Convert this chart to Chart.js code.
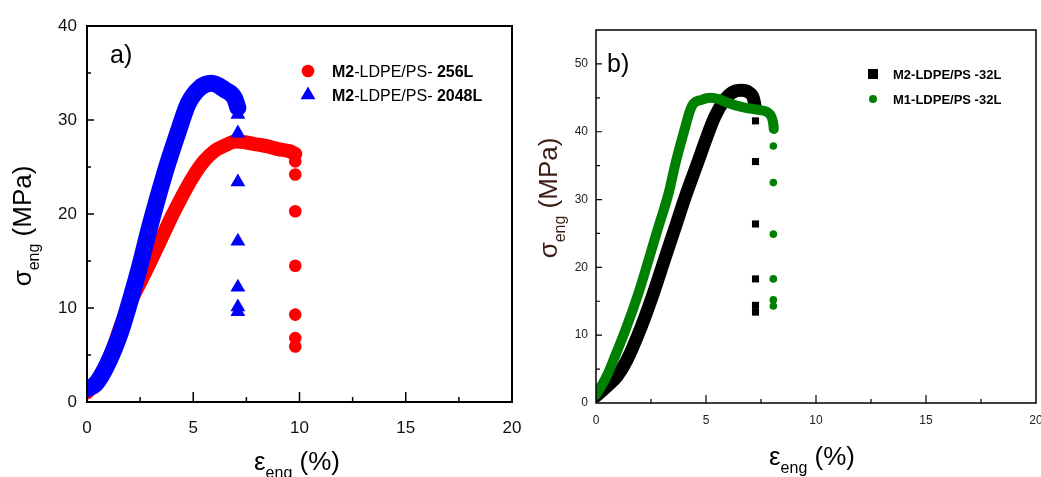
<!DOCTYPE html>
<html>
<head>
<meta charset="utf-8">
<script src="https://cdn.jsdelivr.net/npm/chart.js@4.4.1/dist/chart.umd.min.js"></script>
<style>
  html, body { margin: 0; padding: 0; background: #fff; }
  #wrap { position: relative; width: 1041px; height: 477px; overflow: hidden; background: #fff; }
  #chartA { position: absolute; left: 0; top: 0; }
  #chartB { position: absolute; left: 530px; top: 0; }
</style>
</head>
<body>
<div id="wrap">
  <canvas id="chartA" width="530" height="477"></canvas>
  <canvas id="chartB" width="511" height="477"></canvas>
</div>
<script>
/**
 * Data - panel a) M2-LDPE/PS
 */
const strain256 = [0, 0.5, 0.9, 1.3, 1.6, 2.0, 2.5, 3.0, 3.5, 4.0, 4.5, 5.0, 5.5, 6.0, 6.5, 7.0, 7.5, 8.0, 8.5, 9.0, 9.5, 9.8];
const stress256 = [1.0, 2.4, 4.0, 6.2, 8.2, 10.4, 12.7, 15.0, 17.4, 19.8, 22.0, 24.0, 25.6, 26.7, 27.3, 27.7, 27.6, 27.4, 27.2, 26.9, 26.7, 26.4];
const breakStrain256 = [9.8, 9.8, 9.8, 9.8, 9.8, 9.8, 9.8];
const breakStress256 = [25.6, 24.2, 20.3, 14.5, 9.3, 6.8, 5.9];

const strain2048 = [0, 0.4, 0.96, 1.59, 2.06, 2.49, 2.89, 3.3, 3.75, 4.3, 4.75, 5.3, 5.85, 6.5, 6.95, 7.1];
const stress2048 = [1.4, 1.9, 4.0, 7.5, 11.0, 14.5, 18.1, 21.5, 25.0, 28.8, 31.7, 33.4, 33.9, 33.2, 32.3, 31.3];
const breakStrain2048 = [7.1, 7.1, 7.1, 7.1, 7.1, 7.1, 7.1];
const breakStress2048 = [30.6, 28.6, 23.4, 17.1, 12.2, 10.1, 9.6];

/**
 * Data - panel b) 32 layers, M1 vs M2
 */
const strainM2 = [0, 0.55, 0.95, 1.4, 2.05, 2.6, 3.1, 3.6, 4.1, 4.65, 5.0, 5.4, 5.8, 6.2, 6.6, 6.95, 7.15, 7.22];
const stressM2 = [1.0, 2.6, 3.9, 6.3, 11.2, 16.1, 21.0, 25.9, 30.8, 35.7, 38.9, 42.2, 44.5, 45.8, 46.1, 45.8, 45.0, 44.0];
const breakStrainM2 = [7.25, 7.25, 7.25, 7.25, 7.25, 7.25];
const breakStressM2 = [41.6, 35.6, 26.4, 18.3, 14.4, 13.4];

const strainM1 = [0, 0.48, 0.79, 1.39, 1.92, 2.38, 2.83, 3.29, 3.64, 4.05, 4.27, 4.42, 4.8, 5.18, 5.6, 5.94, 6.7, 7.45, 7.9, 8.06, 8.08];
const stressM1 = [1.2, 3.9, 6.3, 11.2, 16.1, 21.0, 25.9, 30.8, 35.7, 40.6, 43.1, 44.1, 44.7, 45.0, 44.8, 44.3, 43.6, 43.2, 42.6, 41.1, 40.4];
const breakStrainM1 = [8.06, 8.06, 8.06, 8.06, 8.06, 8.06];
const breakStressM1 = [37.9, 32.5, 24.9, 18.3, 15.2, 14.3];

// ticks
const xTicks = [0, 5, 10, 15, 20];
const xMinor = [2.5, 7.5, 12.5, 17.5];
const yTicksA = [0, 10, 20, 30, 40];
const yMinorA = [5, 15, 25, 35];
const yTicksB = [0, 10, 20, 30, 40, 50];
const yMinorB = [5, 15, 25, 35, 45];

// texts
const panelLabels = ['a)', 'b)'];
const legendA = [
  [{ t: 'M2', b: true }, { t: '-LDPE/PS- ' }, { t: '256L', b: true }],
  [{ t: 'M2', b: true }, { t: '-LDPE/PS- ' }, { t: '2048L', b: true }]
];
const legendB = ['M2-LDPE/PS -32L', 'M1-LDPE/PS -32L'];

const FONT = "'Liberation Sans', Arial, Helvetica, sans-serif";
Chart.defaults.font.family = FONT;

/**
 * Helpers
 */
const pts = (xs, ys) => xs.map((x, i) => ({ x: x, y: ys[i] }));

const curve = (xs, ys, color, width) => ({
  data: pts(xs, ys),
  showLine: true,
  borderColor: color,
  backgroundColor: color,
  borderWidth: width,
  borderCapStyle: 'round',
  borderJoinStyle: 'round',
  cubicInterpolationMode: 'monotone',
  pointRadius: 0,
  clip: 0
});

const drops = (xs, ys, color, style, radius) => ({
  data: pts(xs, ys),
  showLine: false,
  pointStyle: style,
  pointRadius: radius,
  pointBackgroundColor: color,
  pointBorderColor: color,
  pointBorderWidth: 0
});

// draw a row of text pieces with different fonts
function drawRuns(ctx, runs, x, y) {
  let cx = x;
  runs.forEach(r => {
    ctx.font = r.font;
    ctx.fillText(r.text, cx, y + (r.dy || 0));
    cx += ctx.measureText(r.text).width;
  });
  return cx;
}

function runsWidth(ctx, runs) {
  let w = 0;
  runs.forEach(r => { ctx.font = r.font; w += ctx.measureText(r.text).width; });
  return w;
}

function marker(ctx, style, x, y, r, color) {
  ctx.fillStyle = color;
  ctx.beginPath();
  if (style === 'circle') {
    ctx.arc(x, y, r, 0, Math.PI * 2);
  } else if (style === 'triangle') {
    ctx.moveTo(x, y - r);
    ctx.lineTo(x + r * 0.866, y + r * 0.5);
    ctx.lineTo(x - r * 0.866, y + r * 0.5);
    ctx.closePath();
  } else {
    ctx.rect(x - r, y - r, 2 * r, 2 * r);
  }
  ctx.fill();
}

// frame, inside ticks, titles, legend
const decor = (cfg) => ({
  id: 'decor',
  afterDraw(chart) {
    const { ctx, chartArea: a } = chart;
    const x = chart.scales.x, y = chart.scales.y;
    ctx.save();
    ctx.strokeStyle = '#000';
    ctx.lineWidth = cfg.frame;
    ctx.strokeRect(a.left, a.top, a.right - a.left, a.bottom - a.top);

    ctx.lineWidth = cfg.tickW;
    ctx.beginPath();
    xTicks.slice(1, -1).forEach(v => {
      const p = x.getPixelForValue(v);
      ctx.moveTo(p, a.bottom); ctx.lineTo(p, a.bottom - cfg.xMajor);
    });
    xMinor.forEach(v => {
      const p = x.getPixelForValue(v);
      ctx.moveTo(p, a.bottom); ctx.lineTo(p, a.bottom - cfg.xMin);
    });
    cfg.yTicks.slice(1).forEach(v => {
      const p = y.getPixelForValue(v);
      if (p > a.top + 1) { ctx.moveTo(a.left, p); ctx.lineTo(a.left + cfg.yMajor, p); }
    });
    cfg.yMinor.forEach(v => {
      const p = y.getPixelForValue(v);
      ctx.moveTo(a.left, p); ctx.lineTo(a.left + cfg.yMin, p);
    });
    ctx.stroke();

    // panel label
    ctx.fillStyle = '#000';
    ctx.textBaseline = 'alphabetic';
    ctx.textAlign = 'left';
    ctx.font = '25px ' + FONT;
    ctx.fillText(cfg.label, cfg.labelX, cfg.labelY);

    // x title
    const xt = [
      { text: 'ε', font: '26px ' + FONT },
      { text: 'eng', font: '16px ' + FONT, dy: 8 },
      { text: ' (%)', font: '26px ' + FONT }
    ];
    ctx.fillStyle = '#000';
    drawRuns(ctx, xt, cfg.xtX - runsWidth(ctx, xt) / 2, cfg.xtY);

    // y title
    const yt = [
      { text: 'σ', font: '26px ' + FONT },
      { text: 'eng', font: '16px ' + FONT, dy: 8 },
      { text: ' (MPa)', font: '26px ' + FONT }
    ];
    ctx.save();
    ctx.translate(cfg.ytX, cfg.ytY);
    ctx.rotate(-Math.PI / 2);
    ctx.fillStyle = cfg.ytColor;
    drawRuns(ctx, yt, -runsWidth(ctx, yt) / 2, 0);
    ctx.restore();

    // legend
    cfg.legend.forEach((row, i) => {
      const ly = cfg.legY + i * cfg.legGap;
      marker(ctx, row.style, cfg.legMarkX, ly, row.r, row.color);
      ctx.fillStyle = '#000';
      drawRuns(ctx, row.runs, cfg.legTextX, ly + cfg.legBase);
    });
    ctx.restore();
  }
});

// fixed axis boxes so the plot area lands where the reference has it
const noPad = s => { s.paddingLeft = 0; s.paddingRight = 0; s.paddingTop = 0; s.paddingBottom = 0; };

const axisFixed = (w, h) => ({
  x: {
    type: 'linear', min: 0, max: 20,
    grid: { display: false, drawTicks: false },
    border: { display: false },
    afterBuildTicks: s => { s.ticks = xTicks.map(v => ({ value: v })); },
    afterFit: s => { s.height = h; noPad(s); }
  },
  y: {
    type: 'linear',
    grid: { display: false, drawTicks: false },
    border: { display: false },
    afterFit: s => { s.width = w; noPad(s); }
  }
});

/**
 * Chart a)
 */
const createChartA = () => {
  const scales = axisFixed(87, 75);
  scales.x.ticks = { padding: 16, autoSkip: false, maxRotation: 0, color: '#111', font: { size: 17 } };
  scales.y.min = 0; scales.y.max = 40;
  scales.y.afterBuildTicks = s => { s.ticks = yTicksA.map(v => ({ value: v })); };
  scales.y.ticks = { padding: 10, color: '#111', font: { size: 17 } };

  const rf = (t, b) => ({ text: t, font: (b ? 'bold ' : '') + '16px ' + FONT });

  new Chart(document.getElementById('chartA'), {
    type: 'scatter',
    data: {
      datasets: [
        drops(breakStrain2048, breakStress2048, '#0000ff', 'triangle', 8.6),
        curve(strain2048, stress2048, '#0000ff', 17),
        drops(breakStrain256, breakStress256, '#ff0000', 'circle', 6.3),
        curve(strain256, stress256, '#ff0000', 14)
      ]
    },
    options: {
      responsive: false,
      animation: false,
      layout: { padding: { top: 26, right: 18, left: 0, bottom: 0 } },
      plugins: { legend: { display: false }, tooltip: { enabled: false } },
      scales: scales
    },
    plugins: [decor({
      frame: 2, tickW: 1.5, xMajor: 10, xMin: 5, yMajor: 7, yMin: 4,
      yTicks: yTicksA, yMinor: yMinorA,
      label: panelLabels[0], labelX: 110, labelY: 63,
      xtX: 297, xtY: 470,
      ytX: 31, ytY: 226, ytColor: '#000',
      legMarkX: 308, legTextX: 332, legY: 71, legGap: 24, legBase: 6,
      legend: [
        { style: 'circle', r: 6.3, color: '#ff0000', runs: legendA[0].map(p => rf(p.t, p.b)) },
        { style: 'triangle', r: 8.6, color: '#0000ff', runs: legendA[1].map(p => rf(p.t, p.b)) }
      ]
    })]
  });
};

/**
 * Chart b)
 */
const createChartB = () => {
  const scales = axisFixed(66, 74);
  scales.x.ticks = { padding: 10, autoSkip: false, maxRotation: 0, color: '#222', font: { size: 12 } };
  scales.y.min = 0; scales.y.max = 55;
  scales.y.afterBuildTicks = s => { s.ticks = yTicksB.map(v => ({ value: v })); };
  scales.y.ticks = { padding: 8, color: '#222', font: { size: 12 } };

  const bf = t => [{ text: t, font: 'bold 13px ' + FONT }];

  new Chart(document.getElementById('chartB'), {
    type: 'scatter',
    data: {
      datasets: [
        drops(breakStrainM1, breakStressM1, '#008000', 'circle', 3.8),
        curve(strainM1, stressM1, '#008000', 10),
        drops(breakStrainM2, breakStressM2, '#000000', 'rect', 5),
        curve(strainM2, stressM2, '#000000', 13)
      ]
    },
    options: {
      responsive: false,
      animation: false,
      layout: { padding: { top: 30, right: 5, left: 0, bottom: 0 } },
      plugins: { legend: { display: false }, tooltip: { enabled: false } },
      scales: scales
    },
    plugins: [decor({
      frame: 1.5, tickW: 1.2, xMajor: 8, xMin: 4, yMajor: 6, yMin: 4,
      yTicks: yTicksB, yMinor: yMinorB,
      label: panelLabels[1], labelX: 77, labelY: 72,
      xtX: 282, xtY: 465,
      ytX: 27, ytY: 198, ytColor: '#3a1c12',
      legMarkX: 343, legTextX: 363, legY: 74, legGap: 25, legBase: 5,
      legend: [
        { style: 'rect', r: 5, color: '#000000', runs: bf(legendB[0]) },
        { style: 'circle', r: 4, color: '#008000', runs: bf(legendB[1]) }
      ]
    })]
  });
};

document.addEventListener('DOMContentLoaded', () => {
  createChartA();
  createChartB();
});
</script>
</body>
</html>
